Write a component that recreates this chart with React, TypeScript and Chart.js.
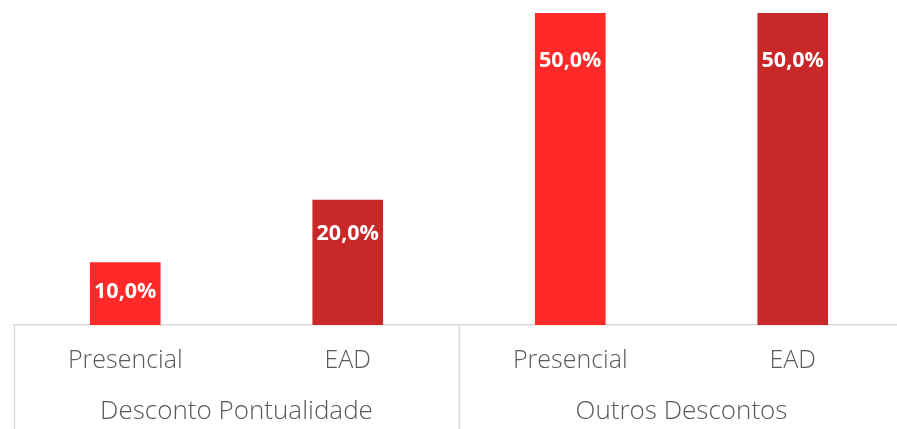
import React, { useEffect, useRef } from "react";
import { Chart, registerables } from "chart.js";

Chart.register(...registerables);

const categories = ["Presencial", "EAD", "Presencial", "EAD"];
const groups = ["Desconto Pontualidade", "Outros Descontos"];
const groupSizes = [2, 2];
const values = [10, 20, 50, 50];
const barColors = ["#FF2929", "#C82828"];

const FONT = "'Open Sans', 'Segoe UI', sans-serif";

const groupPlugin = {
  id: "groupAxis",
  afterDraw(chart: any) {
    const ctx = chart.ctx;
    const x = chart.scales.x;
    const area = chart.chartArea;
    const H = chart.height;
    const bounds: number[] = [x.left];
    let idx = 0;
    groupSizes.forEach((n, gi) => {
      idx += n;
      if (gi < groupSizes.length - 1) {
        bounds.push((x.getPixelForValue(idx - 1) + x.getPixelForValue(idx)) / 2);
      }
    });
    bounds.push(x.right);
    ctx.save();
    ctx.strokeStyle = "#D9D9D9";
    ctx.lineWidth = 1.5;
    bounds.forEach((b) => {
      ctx.beginPath();
      ctx.moveTo(Math.round(b) + 0.5, area.bottom);
      ctx.lineTo(Math.round(b) + 0.5, H);
      ctx.stroke();
    });
    ctx.fillStyle = "#595959";
    ctx.font = `300 26px ${FONT}`;
    ctx.textAlign = "center";
    ctx.textBaseline = "middle";
    groups.forEach((g, i) => {
      ctx.fillText(g, (bounds[i] + bounds[i + 1]) / 2, area.bottom + 87);
    });
    const meta = chart.getDatasetMeta(0);
    ctx.fillStyle = "#FFFFFF";
    ctx.font = `bold 21.5px ${FONT}`;
    meta.data.forEach((bar: any, i: number) => {
      const v = values[i];
      const txt = v.toFixed(1).replace(".", ",") + "%";
      ctx.fillText(txt, bar.x, bar.y + 25 + v * 0.45);
    });
    ctx.restore();
  },
};

export default function App() {
  const ref = useRef<HTMLCanvasElement | null>(null);
  useEffect(() => {
    if (!ref.current) return;
    const chart = new Chart(ref.current, {
      type: "bar",
      data: {
        labels: categories,
        datasets: [
          {
            data: values,
            backgroundColor: categories.map((_, i) => barColors[i % 2]),
            barThickness: 70,
          },
        ],
      },
      options: {
        animation: false,
        responsive: true,
        maintainAspectRatio: false,
        layout: { padding: { left: 14, top: 13, right: 0, bottom: 0 } },
        plugins: { legend: { display: false }, tooltip: { enabled: false } },
        scales: {
          x: {
            grid: { display: false, drawTicks: false },
            border: { display: true, color: "#D9D9D9", width: 1.5 },
            ticks: {
              color: "#595959",
              font: { family: FONT, size: 25, weight: 300 },
              padding: 21,
              maxRotation: 0,
              autoSkip: false,
            },
            afterFit: (s: any) => {
              s.height = 104;
            },
          },
          y: {
            display: false,
            min: 0,
            max: 50,
          },
        },
      },
      plugins: [groupPlugin],
    });
    return () => chart.destroy();
  }, []);
  return (
    <div style={{ position: "fixed", left: 0, top: 0, width: 897, height: 429, overflow: "hidden", background: "#fff" }}>
      <div style={{ position: "relative", width: 904, height: 429 }}>
        <canvas ref={ref} />
      </div>
    </div>
  );
}
